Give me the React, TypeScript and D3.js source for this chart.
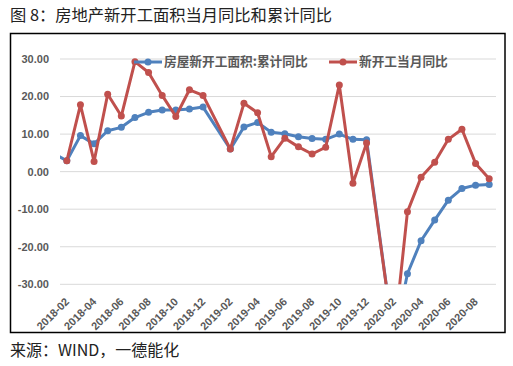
import React from "react";
import * as d3 from "d3";

const months = [
  "2018-02","2018-03","2018-04","2018-05","2018-06","2018-07","2018-08","2018-09","2018-10","2018-11","2018-12",
  "2019-01","2019-02","2019-03","2019-04","2019-05","2019-06","2019-07","2019-08","2019-09","2019-10","2019-11","2019-12",
  "2020-01","2020-02","2020-03","2020-04","2020-05","2020-06","2020-07","2020-08","2020-09",
];
// 房屋新开工面积:累计同比 (January months have no value)
const cumulative: (number | null)[] = [
  2.9, 9.6, 7.4, 10.9, 11.8, 14.4, 15.8, 16.4, 16.4, 16.7, 17.2,
  null, 6.0, 11.9, 13.1, 10.5, 10.1, 9.3, 8.8, 8.6, 10.0, 8.6, 8.5,
  null, -44.9, -27.2, -18.4, -12.9, -7.6, -4.5, -3.6, -3.4,
];
// value of the cumulative series before the first visible month
const cumulativeLead = { month: "2017-12", offset: -2, value: 7.0 };
// 新开工当月同比
const monthly: (number | null)[] = [
  2.9, 17.8, 2.7, 20.6, 14.8, 29.3, 26.4, 20.3, 14.7, 21.8, 20.3,
  null, 6.0, 18.2, 15.7, 4.0, 8.9, 6.6, 4.7, 6.5, 23.1, -3.1, 7.6,
  null, -44.9, -10.7, -1.5, 2.5, 8.6, 11.3, 2.2, -1.9,
];
const yTicks = [30, 20, 10, 0, -10, -20, -30];
const seriesNames = ["房屋新开工面积:累计同比", "新开工当月同比"];
const colors = ["#4F81BD", "#C0504D"];
const title = "图 8：房地产新开工面积当月同比和累计同比";
const source = "来源：WIND，一德能化";

export default function App() {
  const W = 513, H = 366;
  const left = 60, right = 496, top = 59, bottom = 284.3;
  const x = d3.scaleLinear().domain([-0.5, months.length - 0.5]).range([left, right]);
  const y = d3.scaleLinear().domain([-30, 30]).range([bottom, top]);
  const line = d3.line<[number, number]>().x((d) => x(d[0])).y((d) => y(d[1]));

  const toPts = (arr: (number | null)[]) =>
    arr.map((v, i) => [i, v] as [number, number | null]).filter((d) => d[1] !== null) as [number, number][];
  const bluePts = toPts(cumulative);
  const blueLine: [number, number][] = [[cumulativeLead.offset, cumulativeLead.value], ...bluePts];
  const redPts = toPts(monthly);

  const gray = "#595959";
  const numFont = "'Liberation Sans', Arial, sans-serif";
  const cjk = "'Noto Sans CJK SC', sans-serif";

  const legend = [
    { x0: 134, name: seriesNames[0], color: colors[0] },
    { x0: 329, name: seriesNames[1], color: colors[1] },
  ];
  const ly = 62;

  return (
    <svg width={W} height={H} style={{ position: "absolute", left: 0, top: 0 }} xmlns="http://www.w3.org/2000/svg">
      <rect x={0} y={0} width={W} height={H} fill="#fff" />
      <text x={10} y={21} fontFamily={cjk} fontSize={16.3} fill="#222">{title}</text>
      <defs>
        <clipPath id="plot">
          <rect x={left} y={40} width={right - left} height={bottom - 40} />
        </clipPath>
        <clipPath id="frame">
          <rect x={11} y={34} width={493} height={298} />
        </clipPath>
      </defs>
      {yTicks.map((t) => (
        <g key={t}>
          <line x1={left} x2={right} y1={y(t)} y2={y(t)} stroke="#d9d9d9" strokeWidth={1} />
          <text x={49} y={y(t)} dy="0.35em" textAnchor="end" fontFamily={numFont} fontWeight="bold" fontSize={11} fill={gray}>
            {t.toFixed(2)}
          </text>
        </g>
      ))}
      <g clipPath="url(#frame)">
        {months.map((m, i) =>
          i % 2 === 0 ? (
            <text key={m} transform={`translate(${x(i) + 3},${bottom + 18}) rotate(-45)`} textAnchor="end"
              fontFamily={numFont} fontWeight="bold" fontSize={11} fill={gray}>
              {m}
            </text>
          ) : null
        )}
      </g>
      <rect x={10.5} y={33.5} width={494.5} height={299} fill="none" stroke="#000" strokeWidth={1.5} />
      <g clipPath="url(#plot)">
        <path d={line(blueLine) || ""} fill="none" stroke={colors[0]} strokeWidth={3} strokeLinejoin="round" />
        {bluePts.map((d) => (
          <circle key={d[0]} cx={x(d[0])} cy={y(d[1])} r={3.5} fill={colors[0]} />
        ))}
        <path d={line(redPts) || ""} fill="none" stroke={colors[1]} strokeWidth={3} strokeLinejoin="round" />
        {redPts.map((d) => (
          <circle key={d[0]} cx={x(d[0])} cy={y(d[1])} r={3.5} fill={colors[1]} />
        ))}
      </g>
      {legend.map((l) => (
        <g key={l.name}>
          <line x1={l.x0} x2={l.x0 + 28} y1={ly} y2={ly} stroke={l.color} strokeWidth={3} />
          <circle cx={l.x0 + 14} cy={ly} r={3.5} fill={l.color} />
          <text x={l.x0 + 30} y={ly} dy="0.35em" fontFamily={cjk} fontWeight="bold" fontSize={12.7} fill={gray}>
            {l.name}
          </text>
        </g>
      ))}
      <text x={10} y={356} fontFamily={cjk} fontSize={16} fill="#222">{source}</text>
    </svg>
  );
}
